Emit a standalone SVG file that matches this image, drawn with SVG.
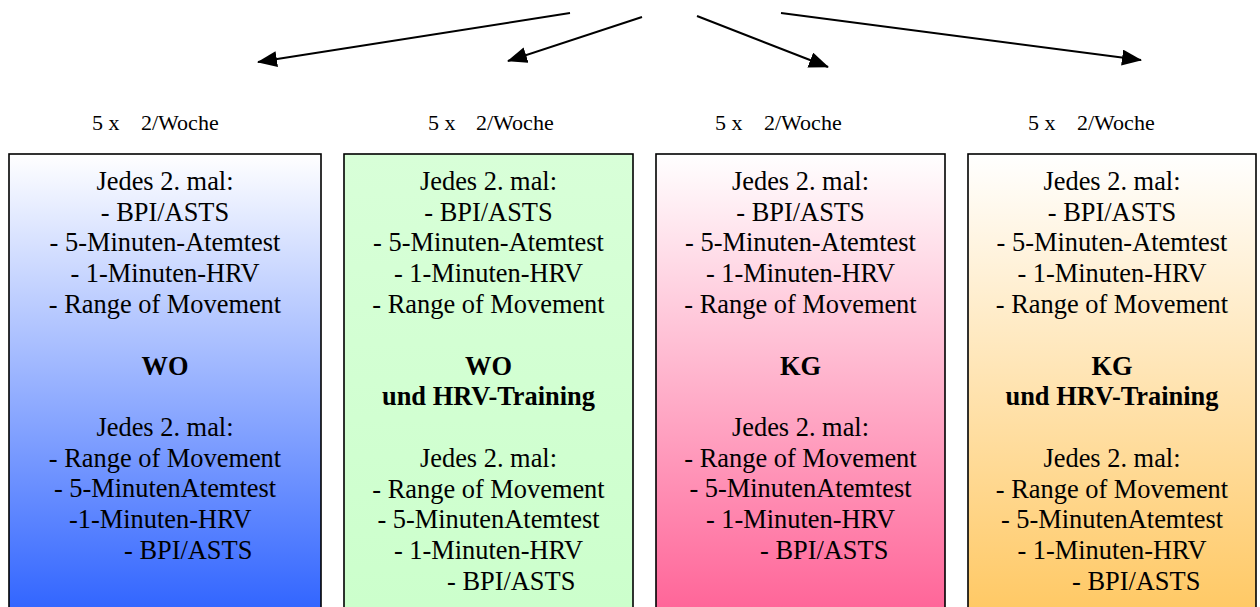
<svg xmlns="http://www.w3.org/2000/svg" width="1260" height="607" viewBox="0 0 1260 607">
<style>
text{font-family:"Liberation Serif","Times New Roman",serif;fill:#000}
.t{font-size:26.4px;text-anchor:middle}
.l{font-size:26.4px}
.s{font-size:22px}
.b{font-weight:bold}
.box{stroke:#000;stroke-width:1.6}
.con{stroke:#000;stroke-width:2;fill:none;marker-end:url(#ah)}
</style>
<defs>
<marker id="ah" viewBox="0 0 20 16" refX="19" refY="8" markerWidth="20" markerHeight="16" orient="auto" markerUnits="userSpaceOnUse">
<path d="M0,0 L20,8 L0,16 Z" fill="#000"/>
</marker>
<linearGradient id="g1" x1="0" y1="154" x2="0" y2="607" gradientUnits="userSpaceOnUse"><stop offset="0" stop-color="#ffffff"/><stop offset="1" stop-color="#3366ff"/></linearGradient>
<linearGradient id="g2" x1="0" y1="154" x2="0" y2="607" gradientUnits="userSpaceOnUse"><stop offset="0" stop-color="#d8ffd8"/><stop offset="1" stop-color="#ccffcc"/></linearGradient>
<linearGradient id="g3" x1="0" y1="154" x2="0" y2="607" gradientUnits="userSpaceOnUse"><stop offset="0" stop-color="#ffffff"/><stop offset="1" stop-color="#ff6699"/></linearGradient>
<linearGradient id="g4" x1="0" y1="154" x2="0" y2="607" gradientUnits="userSpaceOnUse"><stop offset="0" stop-color="#ffffff"/><stop offset="1" stop-color="#ffc966"/></linearGradient>
</defs>
<g id="connectors">
<path class="con" d="M570,13 L258,62"/>
<path class="con" d="M642,17 L508,61"/>
<path class="con" d="M697,16 L828,67"/>
<path class="con" d="M781,13 L1141,60"/>
</g>
<g id="labels">
<text class="s" x="92" y="130">5 x</text><text class="s" x="141" y="130">2/Woche</text>
<text class="s" x="428" y="130">5 x</text><text class="s" x="476" y="130">2/Woche</text>
<text class="s" x="715" y="130">5 x</text><text class="s" x="764" y="130">2/Woche</text>
<text class="s" x="1028" y="130">5 x</text><text class="s" x="1077" y="130">2/Woche</text>
</g>
<g id="node-wo">
<rect class="box" x="9" y="154" width="312" height="470" fill="url(#g1)"/>
<text class="t" x="165" y="190">Jedes 2. mal:</text>
<text class="t" x="165" y="221">- BPI/ASTS</text>
<text class="t" x="165" y="251">- 5-Minuten-Atemtest</text>
<text class="t" x="165" y="282">- 1-Minuten-HRV</text>
<text class="t" x="165" y="313">- Range of Movement</text>
<text class="t b" x="165" y="375">WO</text>
<text class="t" x="165" y="436">Jedes 2. mal:</text>
<text class="t" x="165" y="467">- Range of Movement</text>
<text class="t" x="165" y="497">- 5-MinutenAtemtest</text>
<text class="l" x="69" y="528">-1-Minuten-HRV</text>
<text class="l" x="124" y="559">- BPI/ASTS</text>
</g>
<g id="node-wo-hrv">
<rect class="box" x="344" y="154" width="289" height="470" fill="url(#g2)"/>
<text class="t" x="488.5" y="190">Jedes 2. mal:</text>
<text class="t" x="488.5" y="221">- BPI/ASTS</text>
<text class="t" x="488.5" y="251">- 5-Minuten-Atemtest</text>
<text class="t" x="488.5" y="282">- 1-Minuten-HRV</text>
<text class="t" x="488.5" y="313">- Range of Movement</text>
<text class="t b" x="488.5" y="375">WO</text>
<text class="t b" x="488.5" y="405">und HRV-Training</text>
<text class="t" x="488.5" y="467">Jedes 2. mal:</text>
<text class="t" x="488.5" y="498">- Range of Movement</text>
<text class="t" x="488.5" y="528">- 5-MinutenAtemtest</text>
<text class="t" x="488.5" y="559">- 1-Minuten-HRV</text>
<text class="l" x="447" y="590">- BPI/ASTS</text>
</g>
<g id="node-kg">
<rect class="box" x="656" y="154" width="289" height="470" fill="url(#g3)"/>
<text class="t" x="800.5" y="190">Jedes 2. mal:</text>
<text class="t" x="800.5" y="221">- BPI/ASTS</text>
<text class="t" x="800.5" y="251">- 5-Minuten-Atemtest</text>
<text class="t" x="800.5" y="282">- 1-Minuten-HRV</text>
<text class="t" x="800.5" y="313">- Range of Movement</text>
<text class="t b" x="800.5" y="375">KG</text>
<text class="t" x="800.5" y="436">Jedes 2. mal:</text>
<text class="t" x="800.5" y="467">- Range of Movement</text>
<text class="t" x="800.5" y="497">- 5-MinutenAtemtest</text>
<text class="t" x="800.5" y="528">- 1-Minuten-HRV</text>
<text class="l" x="760" y="559">- BPI/ASTS</text>
</g>
<g id="node-kg-hrv">
<rect class="box" x="968" y="154" width="288" height="470" fill="url(#g4)"/>
<text class="t" x="1112" y="190">Jedes 2. mal:</text>
<text class="t" x="1112" y="221">- BPI/ASTS</text>
<text class="t" x="1112" y="251">- 5-Minuten-Atemtest</text>
<text class="t" x="1112" y="282">- 1-Minuten-HRV</text>
<text class="t" x="1112" y="313">- Range of Movement</text>
<text class="t b" x="1112" y="375">KG</text>
<text class="t b" x="1112" y="405">und HRV-Training</text>
<text class="t" x="1112" y="467">Jedes 2. mal:</text>
<text class="t" x="1112" y="498">- Range of Movement</text>
<text class="t" x="1112" y="528">- 5-MinutenAtemtest</text>
<text class="t" x="1112" y="559">- 1-Minuten-HRV</text>
<text class="l" x="1072" y="590">- BPI/ASTS</text>
</g>
</svg>
